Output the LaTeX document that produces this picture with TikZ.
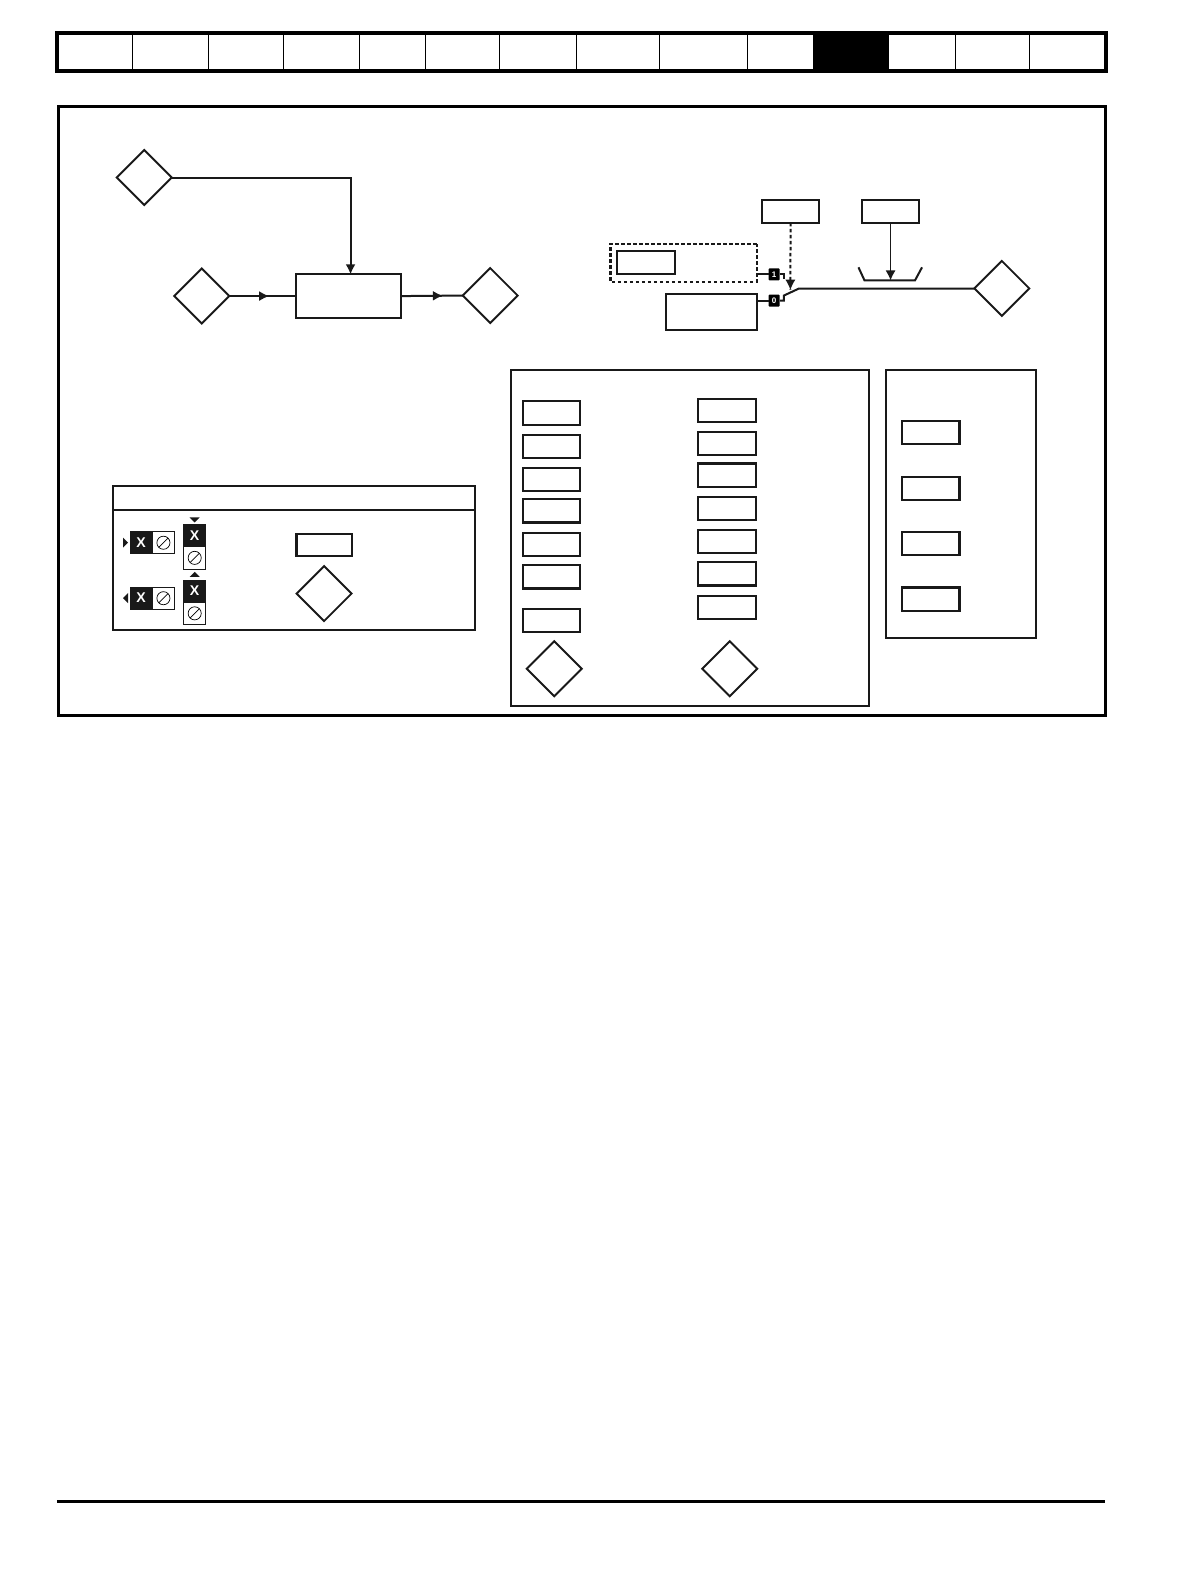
\documentclass[tikz,border=0pt]{standalone}
\usepackage{fontspec}
\setmainfont{Liberation Sans}
\usetikzlibrary{shapes.geometric,arrows.meta,decorations.markings,positioning,calc}
\tikzset{
  prmbox/.style={draw=black!90,line width=2.1pt,rectangle,minimum width=57pt,minimum height=23pt,inner sep=0pt,outer sep=0pt},
  dia/.style={draw=black!90,line width=1.9pt,diamond,aspect=1,minimum width=54.5pt,minimum height=54.5pt,inner sep=0pt,outer sep=0pt},
  wire/.style={draw=black!90,line width=2pt},
  tip/.style={-{Latex[length=10pt,width=10pt]}},
  midarrow/.style={postaction={decorate},decoration={markings,mark=at position #1 with {\arrow{Latex[length=10pt,width=10pt]}}}},
  tag/.style={fill=black,rounded corners=1pt,text=white,font=\bfseries\fontsize{8}{8}\selectfont,minimum width=11pt,minimum height=12pt,inner sep=0pt,outer sep=0pt},
  xcell/.style={fill=black!90,draw=black!90,line width=.6pt,text=white,font=\bfseries\fontsize{14}{14}\selectfont,minimum width=22pt,minimum height=22pt,inner sep=0pt,outer sep=0pt},
  ocell/.style={fill=white,draw=black!90,line width=.7pt,minimum width=22pt,minimum height=22pt,inner sep=0pt,outer sep=0pt},
  panel/.style={draw=black!90,line width=2pt},
  dashline/.style={dash pattern=on 3.5pt off 2.5pt},
  tri/.style={fill=black!90,draw=none}
}
\newcommand{\slashcirc}[1]{%
  \draw[line width=.7pt] (#1) circle (6.5pt);
  \draw[line width=.7pt] ($(#1)+(-4.5,4.5)$) -- ($(#1)+(4.5,-4.5)$);}
\begin{document}
\begin{tikzpicture}[x=1pt,y=-1pt,scale=1.0086,every node/.append style={transform shape}]
\useasboundingbox (0,0) rectangle (1179.85,1568.5);
\fill[white] (0,0) rectangle (1179.85,1568.5);
% header strip
\fill[black] (806,33) rectangle (881.5,70);
\draw[line width=4pt] (56.5,32.7) rectangle (1096.5,70.4);
\foreach \x in {131.5,206.5,281,356,421.5,495.5,571.5,653.5,741.5,947.5,1021}
  \draw[line width=1pt] (\x,33) -- (\x,70);
% frame
\draw[line width=3pt,draw=black] (58,105.5) rectangle (1096,709);
% bottom rule
\draw[line width=3pt] (56.5,1489) -- (1096,1489);

% left flow
\node[dia] (dA) at (143,176) {};
\node[dia] (dB) at (200,293.5) {};
\node[dia] (dC) at (486,293) {};
\node[prmbox,minimum width=104pt,minimum height=43pt] (fn) at (345.3,293.5) {};
\coordinate (corner) at (347.5,176);
\draw[wire,tip] (dA.east) -- (corner) -- (corner |- fn.north);
\draw[wire,midarrow=.6] (dB.east) -- (fn.west);
\draw[wire,midarrow=.68] (fn.east) -- (dC.west);

% right flow
\node[prmbox] (p1) at (783.7,209.5) {};
\node[prmbox] (p2) at (882.8,209.5) {};
\node[draw=black!90,line width=2.1pt,dashline,minimum width=145pt,minimum height=38pt,inner sep=0pt,outer sep=0pt] (dbox) at (677.8,260.5) {};
\node[prmbox] (p3) at (640.3,260) {};
\node[prmbox,minimum width=90pt,minimum height=36pt] (lim) at (705.2,309.5) {};
\node[dia] (dD) at (993.3,286) {};
\node[tag] (t1) at (767.5,272) {1};
\node[tag] (t0) at (767.5,298) {0};
\coordinate (sw1) at (777,277);
\coordinate (sw0) at (777,293);
\coordinate (swe) at (792,286);
\coordinate (arr) at (783.5,287);
\coordinate (trA) at (851,265);
\coordinate (trB) at (857,278);
\coordinate (trC) at (907,278);
\coordinate (trD) at (914,265);
\draw[wire] (dbox.east |- t1) -- (t1.west);
\draw[wire] (t1.east) -| (sw1);
\draw[wire] (lim.east |- t0) -- (t0.west);
\draw[wire] (t0.east) -| (sw0) -- (swe) -- (dD.west);
\draw[wire,dashline] (p1.south) -- (arr);
\path[tip,draw=black!90,line width=0pt,fill=black!90] ($(arr)+(0,-10)$) -- (arr);
\draw[wire] (trA) -- (trB) -- (trC) -- (trD);
\draw[draw=black!90,line width=1.3pt,tip] (p2.south) -- (trB -| p2);

% centre panel
\draw[panel] (506.2,367) rectangle (861.5,700.3);
\foreach \n/\y in {a/409.5,b/442.5,c/475.5,d/506.5,e/540,f/572,g/615}
  \node[prmbox] (L\n) at (546.8,\y) {};
\foreach \n/\y in {a/407,b/440,c/471,d/504,e/537,f/569,g/602}
  \node[prmbox] (R\n) at (720.8,\y) {};
\node[dia] (dL) at (549.5,663) {};
\node[dia] (dR) at (723.5,663) {};

% right panel
\draw[panel] (878.2,367) rectangle (1027.5,633);
\foreach \n/\y in {a/429,b/484,c/539,d/594}
  \node[prmbox] (S\n) at (922.8,\y) {};

% key panel
\draw[line width=2.2pt,draw=black!90] (112,482) rectangle (471,625);
\draw[line width=2.2pt,draw=black!90] (112,506) -- (471,506);
\node[prmbox,minimum width=55pt,minimum height=22pt] (kb) at (321.5,540) {};
\node[dia] (kd) at (321.3,588.5) {};

% icons
\node[xcell] (h1x) at (140,538) {X};
\node[ocell] (h1o) at (162,538) {};
\slashcirc{h1o}
\fill[tri] (122,533) -- (127,538) -- (122,543) -- cycle;
\node[xcell] (h2x) at (140,593) {X};
\node[ocell] (h2o) at (162,593) {};
\slashcirc{h2o}
\fill[tri] (127,588) -- (122,593) -- (127,598) -- cycle;
\node[xcell] (v1x) at (193,531) {X};
\node[ocell] (v1o) at (193,553) {};
\slashcirc{v1o}
\fill[tri] (188,513) -- (198,513) -- (193,518) -- cycle;
\node[xcell] (v2x) at (193,586) {X};
\node[ocell] (v2o) at (193,608) {};
\slashcirc{v2o}
\fill[tri] (188,572) -- (198,572) -- (193,567) -- cycle;
\end{tikzpicture}
\end{document}
